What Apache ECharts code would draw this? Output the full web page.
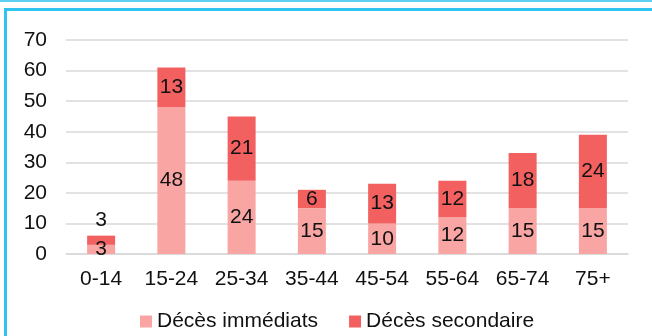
<!DOCTYPE html>
<html><head><meta charset="utf-8">
<script src="https://cdn.jsdelivr.net/npm/echarts@6/dist/echarts.min.js"></script>
<style>
html,body{margin:0;padding:0;background:#fff;width:652px;height:336px;overflow:hidden;}
#topline{position:absolute;left:0;top:0;width:652px;height:2px;background:#5fd0f2;}
#box{position:absolute;left:4px;top:8px;width:660px;height:340px;border-left:3px solid #2fc3ef;border-top:3px solid #2fc3ef;box-sizing:border-box;}
#c{position:absolute;left:0;top:0;width:652px;height:336px;}
</style></head>
<body>
<div id="topline"></div><div id="box"></div>
<div id="c"></div>
<script>
const categories = ['0-14','15-24','25-34','35-44','45-54','55-64','65-74','75+'];
const immediats = [3,48,24,15,10,12,15,15];
const secondaire = [3,13,21,6,13,12,18,24];
const seriesNames = ['Décès immédiats','Décès secondaire'];

const chart = echarts.init(document.getElementById('c'), null, {renderer:'canvas'});
const font = 'Liberation Sans, Arial, sans-serif';
const fs = 21;
chart.setOption({
  animation:false,
  textStyle:{fontFamily:font},
  grid:{left:66,right:24,top:40,bottom:82},
  legend:{
    top:306,left:135,itemWidth:12,itemHeight:12,itemGap:31,
    icon:'rect',
    textStyle:{fontSize:fs,color:'#111',fontFamily:font},
    data:seriesNames
  },
  xAxis:{
    type:'category',data:categories,
    axisLine:{show:true,lineStyle:{color:'#d9d9d9',width:1.5}},
    axisTick:{show:false},
    axisLabel:{fontSize:fs,color:'#111',margin:15,fontFamily:font}
  },
  yAxis:{
    type:'value',min:0,max:70,interval:10,
    axisLine:{show:false},axisTick:{show:false},
    splitLine:{lineStyle:{color:'#d9d9d9',width:1.5}},
    axisLabel:{fontSize:fs,color:'#111',margin:19,fontFamily:font}
  },
  series:[
    {name:seriesNames[0],type:'bar',stack:'t',barWidth:28,data:immediats,
     itemStyle:{color:'#F8A5A4'},
     label:{show:true,position:'inside',fontSize:fs,color:'#111',fontFamily:font}},
    {name:seriesNames[1],type:'bar',stack:'t',barWidth:28,
     data:secondaire.map((v,i)=> i===0 ? {value:v,label:{position:'top',distance:5}} : v),
     itemStyle:{color:'#F26060'},
     label:{show:true,position:'inside',fontSize:fs,color:'#111',fontFamily:font}}
  ]
});
</script>
</body></html>
